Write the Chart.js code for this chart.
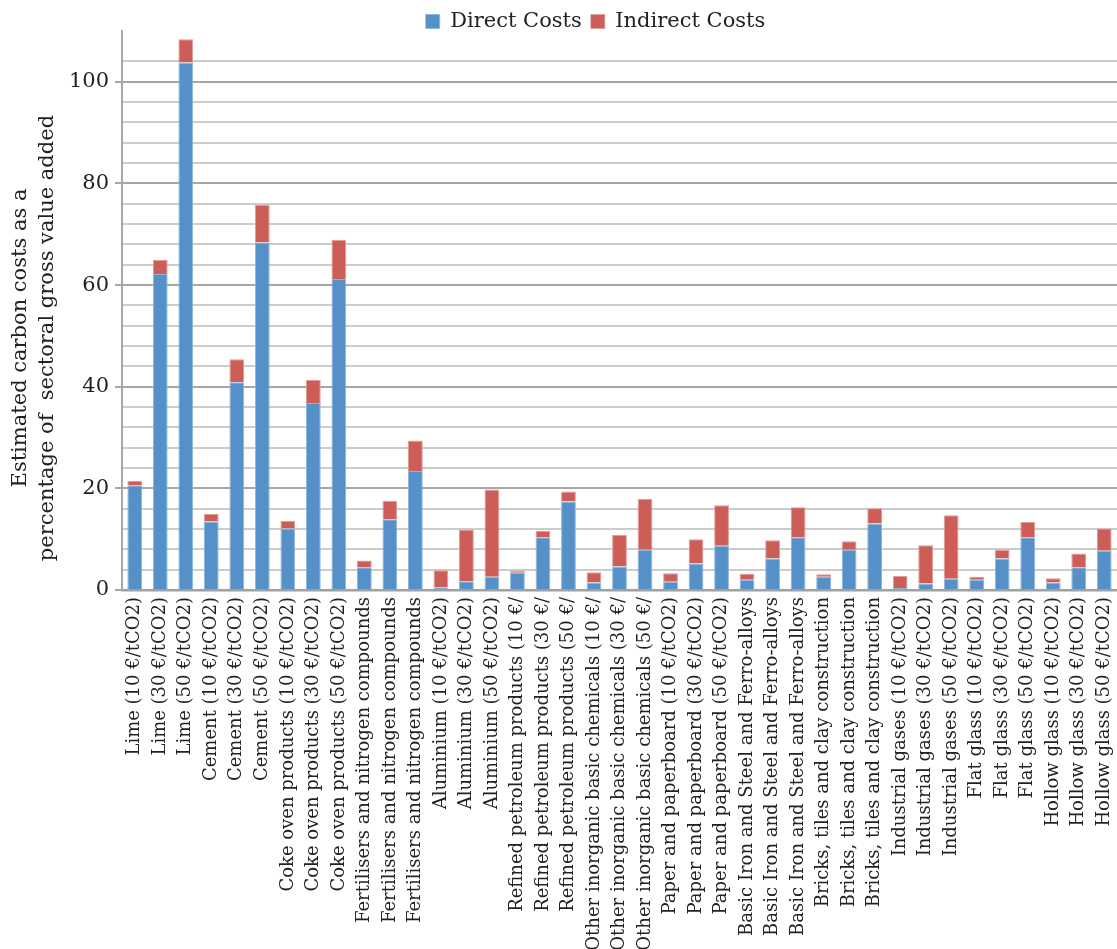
<!DOCTYPE html>
<html>
<head>
<meta charset="utf-8">
<title>Carbon costs by sector</title>
<script src="https://cdn.jsdelivr.net/npm/chart.js@4.4.0/dist/chart.umd.min.js"></script>
<style>
    html, body { margin: 0; padding: 0; background: #fff; }
    .chart-container { position: relative; width: 1117px; height: 949px; }
</style>
</head>
<body>
<div class="chart-container">
    <canvas id="cost-chart"></canvas>
</div>
<script>
// Sector / carbon price categories
const categories = [
    'Lime (10 €/tCO2)', 'Lime (30 €/tCO2)', 'Lime (50 €/tCO2)',
    'Cement (10 €/tCO2)', 'Cement (30 €/tCO2)', 'Cement (50 €/tCO2)',
    'Coke oven products (10 €/tCO2)', 'Coke oven products (30 €/tCO2)', 'Coke oven products (50 €/tCO2)',
    'Fertilisers and nitrogen compounds', 'Fertilisers and nitrogen compounds', 'Fertilisers and nitrogen compounds',
    'Aluminium (10 €/tCO2)', 'Aluminium (30 €/tCO2)', 'Aluminium (50 €/tCO2)',
    'Refined petroleum products (10 €/', 'Refined petroleum products (30 €/', 'Refined petroleum products (50 €/',
    'Other inorganic basic chemicals (10 €/', 'Other inorganic basic chemicals (30 €/', 'Other inorganic basic chemicals (50 €/',
    'Paper and paperboard (10 €/tCO2)', 'Paper and paperboard (30 €/tCO2)', 'Paper and paperboard (50 €/tCO2)',
    'Basic Iron and Steel and Ferro-alloys', 'Basic Iron and Steel and Ferro-alloys', 'Basic Iron and Steel and Ferro-alloys',
    'Bricks, tiles and clay construction', 'Bricks, tiles and clay construction', 'Bricks, tiles and clay construction',
    'Industrial gases (10 €/tCO2)', 'Industrial gases (30 €/tCO2)', 'Industrial gases (50 €/tCO2)',
    'Flat glass (10 €/tCO2)', 'Flat glass (30 €/tCO2)', 'Flat glass (50 €/tCO2)',
    'Hollow glass (10 €/tCO2)', 'Hollow glass (30 €/tCO2)', 'Hollow glass (50 €/tCO2)'
];

// % of sectoral gross value added
const directCosts = [
    20.6, 62.2, 103.8,
    13.5, 40.9, 68.4,
    12.1, 36.8, 61.2,
    4.5, 13.9, 23.4,
    0.5, 1.7, 2.6,
    3.4, 10.4, 17.4,
    1.5, 4.6, 7.9,
    1.6, 5.2, 8.7,
    2.0, 6.2, 10.4,
    2.6, 7.9, 13.1,
    0.4, 1.3, 2.2,
    2.0, 6.2, 10.4,
    1.5, 4.5, 7.7
];

const indirectCosts = [
    0.9, 2.8, 4.6,
    1.5, 4.5, 7.4,
    1.5, 4.5, 7.7,
    1.3, 3.6, 6.0,
    3.4, 10.2, 17.2,
    0.4, 1.2, 2.0,
    2.0, 6.2, 10.0,
    1.7, 4.8, 8.0,
    1.2, 3.6, 5.9,
    0.5, 1.7, 3.0,
    2.4, 7.5, 12.5,
    0.6, 1.7, 3.0,
    0.8, 2.7, 4.4
];

const yTitle = ['Estimated carbon costs as a', 'percentage of  sectoral gross value added'];

const serif = '"DejaVu Serif", "Liberation Serif", serif';
Chart.defaults.color = '#222';

// move the legend over the plot area and a bit lower
const legendShift = {
    id: 'legendShift',
    afterLayout(chart) {
        const lg = chart.legend;
        lg.left += 37;
        lg.right += 37;
        lg.top += 2;
        lg.bottom += 2;
    }
};

// two-line rotated y title, centred a little below the axis middle
const yTitlePlugin = {
    id: 'yTitlePlugin',
    afterDraw(chart) {
        const c = chart.ctx;
        c.save();
        c.font = '21px ' + serif;
        c.fillStyle = '#222';
        c.textAlign = 'center';
        c.textBaseline = 'middle';
        const xs = [21, 48];
        yTitle.forEach((line, i) => {
            c.save();
            c.translate(xs[i], 338);
            c.rotate(-Math.PI / 2);
            c.fillText(line, 0, 0);
            c.restore();
        });
        c.restore();
    }
};

const ctx = document.getElementById('cost-chart').getContext('2d');

new Chart(ctx, {
    type: 'bar',
    data: {
        labels: categories,
        datasets: [
            {
                label: 'Direct Costs',
                data: directCosts,
                backgroundColor: '#5591c8',
                borderColor: '#8db4dc',
                borderWidth: { left: 1, right: 1, top: 1, bottom: 0 },
                borderSkipped: false,
                categoryPercentage: 1,
                barPercentage: 0.58
            },
            {
                label: 'Indirect Costs',
                data: indirectCosts,
                backgroundColor: '#cd5d57',
                borderColor: '#e29a96',
                borderWidth: { left: 1, right: 1, top: 1, bottom: 0 },
                borderSkipped: false,
                categoryPercentage: 1,
                barPercentage: 0.58
            }
        ]
    },
    plugins: [legendShift, yTitlePlugin],
    options: {
        responsive: true,
        maintainAspectRatio: false,
        animation: false,
        layout: { padding: 0 },
        plugins: {
            legend: {
                position: 'top',
                maxHeight: 31,
                labels: {
                    font: { family: serif, size: 21 },
                    color: '#222',
                    boxWidth: 14,
                    boxHeight: 14,
                    padding: 9
                }
            },
            tooltip: { enabled: false }
        },
        scales: {
            x: {
                stacked: true,
                afterFit: scale => {
                    scale.height = 359;
                    scale.paddingLeft = 0;
                    scale.paddingRight = 0;
                },
                grid: { display: false, drawTicks: false },
                border: { color: '#a0a0a0', width: 2.5 },
                ticks: {
                    autoSkip: false,
                    minRotation: 90,
                    maxRotation: 90,
                    padding: 7,
                    font: { family: serif, size: 18 },
                    color: '#222'
                }
            },
            y: {
                stacked: true,
                min: 0,
                max: 110,
                afterFit: scale => {
                    scale.width = 122;
                    scale.paddingTop = 0;
                    scale.paddingBottom = 0;
                },
                afterBuildTicks: scale => {
                    scale.ticks = scale.ticks.filter(t => t.value % 4 === 0);
                },
                border: { color: '#a8a8a8', width: 2 },
                grid: {
                    lineWidth: 2,
                    color: c => c.tick.value % 20 === 0 ? '#a6a6a6' : '#cccccc',
                    tickColor: c => c.tick.value % 20 === 0 ? '#a6a6a6' : 'rgba(0,0,0,0)',
                    tickLength: 7
                },
                ticks: {
                    stepSize: 4,
                    autoSkip: false,
                    padding: 6,
                    font: { family: serif, size: 21 },
                    color: '#222',
                    callback: value => value % 20 === 0 ? value : ''
                }
            }
        }
    }
});
</script>
</body>
</html>
